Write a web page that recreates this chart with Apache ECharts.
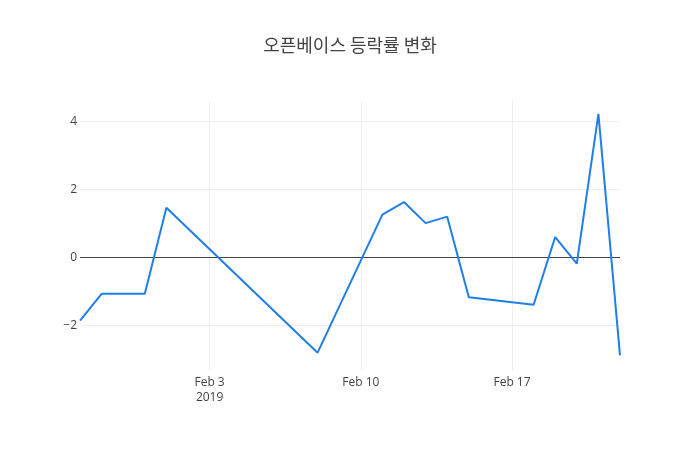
<!DOCTYPE html>
<html>
<head>
    <meta charset="utf-8">
    <title>오픈베이스 등락률 변화</title>
    <script src="https://cdn.jsdelivr.net/npm/echarts@6/dist/echarts.min.js"></script>
    <style>
        html, body { margin: 0; padding: 0; background: #fff; }
        #chart1 { width: 700px; height: 450px; }
    </style>
</head>
<body>
<div id="chart1"></div>
<script type="text/javascript">
    // 거래일과 등락률(%)
    var dates = ['2019-01-28', '2019-01-29', '2019-01-31', '2019-02-01', '2019-02-08',
        '2019-02-11', '2019-02-12', '2019-02-13', '2019-02-14', '2019-02-15',
        '2019-02-18', '2019-02-19', '2019-02-20', '2019-02-21', '2019-02-22'];
    var rates = [-1.87, -1.08, -1.08, 1.45, -2.81,
        1.25, 1.62, 1.00, 1.19, -1.18,
        -1.40, 0.59, -0.19, 4.21, -2.89];
    var tickDays = ['2019-02-03', '2019-02-10', '2019-02-17'];
    var tickLabels = ['Feb 3\n2019', 'Feb 10', 'Feb 17'];

    // 달력상의 모든 날짜로 카테고리 축을 만든다 (거래 없는 날은 null)
    var days = [];
    var d = new Date(dates[0] + 'T00:00:00Z');
    var end = new Date(dates[dates.length - 1] + 'T00:00:00Z');
    while (d <= end) {
        days.push(d.toISOString().slice(0, 10));
        d.setUTCDate(d.getUTCDate() + 1);
    }
    var values = days.map(function (day) {
        var i = dates.indexOf(day);
        return i >= 0 ? rates[i] : null;
    });

    function isTick(idx, val) { return tickDays.indexOf(val) >= 0; }

    var myChart = echarts.init(document.getElementById('chart1'));
    var option = {
        animation: false,
        title: {
            text: '오픈베이스 등락률 변화',
            left: 'center',
            top: 31,
            textStyle: {
                fontFamily: 'Noto Sans CJK KR',
                fontSize: 18,
                fontWeight: 'normal',
                color: '#444'
            }
        },
        grid: { left: 80, right: 80, top: 100, bottom: 80 },
        xAxis: {
            type: 'category',
            data: days,
            boundaryGap: false,
            axisLine: { show: false },
            axisTick: { show: false },
            axisLabel: {
                interval: isTick,
                formatter: function (val) { return tickLabels[tickDays.indexOf(val)]; },
                fontFamily: 'Open Sans',
                fontSize: 12,
                color: '#444',
                lineHeight: 15,
                margin: 5
            },
            splitLine: {
                show: true,
                interval: isTick,
                lineStyle: { color: '#eee', width: 1 }
            }
        },
        yAxis: {
            type: 'value',
            min: -3.32,
            max: 4.62,
            axisLine: { show: false },
            axisTick: { show: false },
            splitLine: {
                show: true,
                showMinLine: false,
                showMaxLine: false,
                lineStyle: { color: '#eee', width: 1 }
            },
            axisLabel: {
                showMinLabel: false,
                showMaxLabel: false,
                fontFamily: 'Open Sans',
                fontSize: 12,
                color: '#444',
                margin: 3,
                formatter: function (v) { return v < 0 ? '\u2212' + Math.abs(v) : String(v); }
            }
        },
        series: [{
            // 0 기준선
            type: 'line',
            data: [],
            silent: true,
            markLine: {
                silent: true,
                symbol: 'none',
                label: { show: false },
                lineStyle: { color: '#444', width: 1, type: 'solid' },
                data: [{ yAxis: 0 }]
            }
        }, {
            name: '등락률',
            type: 'line',
            data: values,
            zlevel: 1,
            connectNulls: true,
            showSymbol: false,
            lineStyle: { color: '#1f7fe6', width: 2 },
            itemStyle: { color: '#1f7fe6' }
        }]
    };
    myChart.setOption(option);
</script>
</body>
</html>
